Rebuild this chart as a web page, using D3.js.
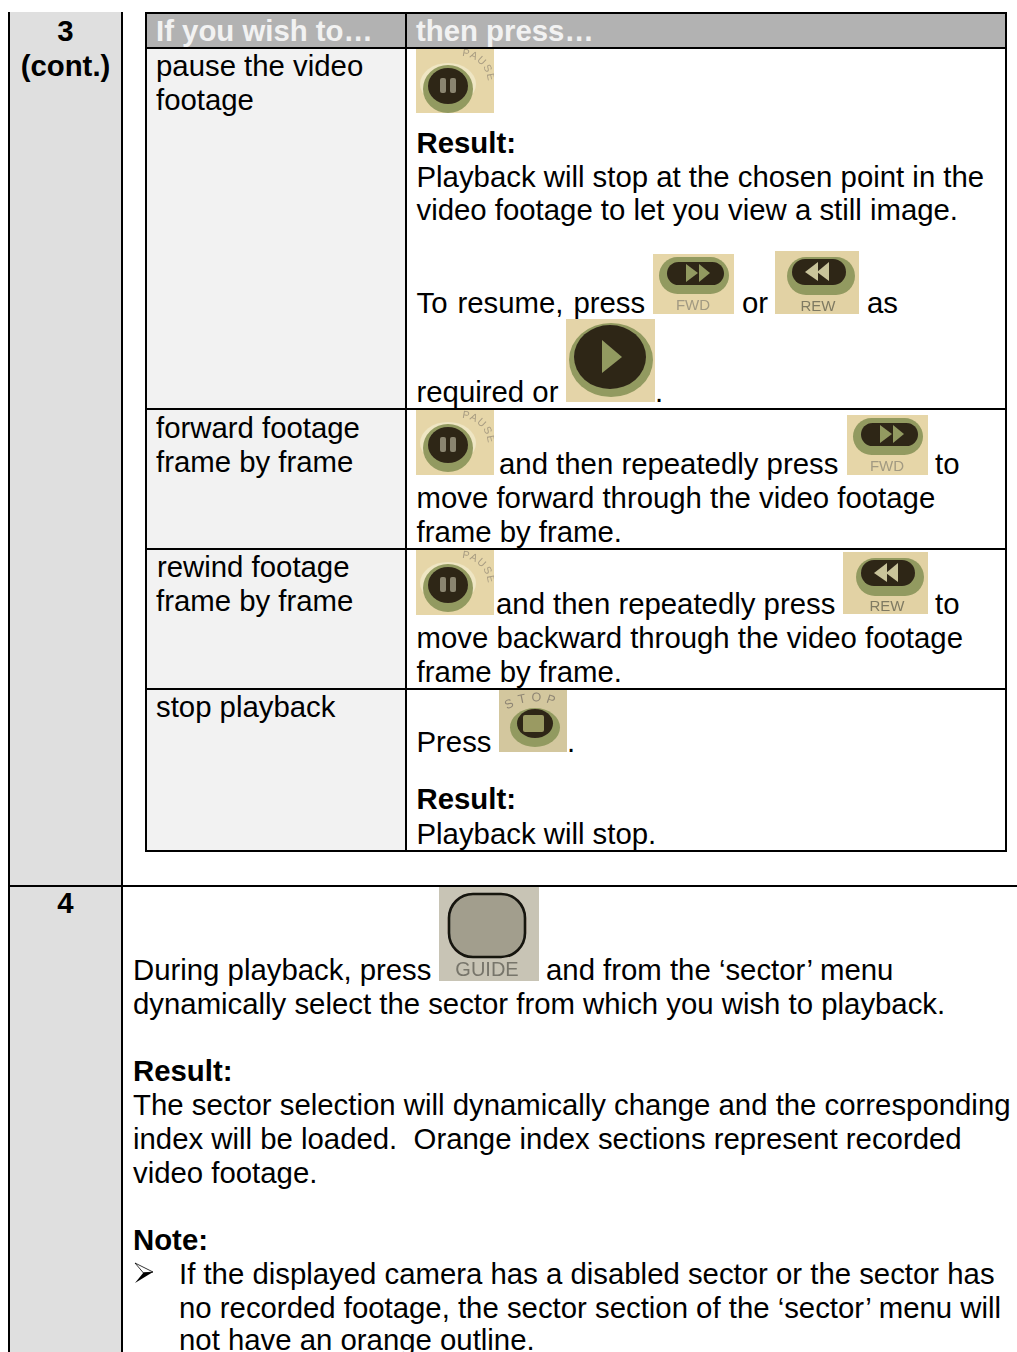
<!DOCTYPE html>
<html>
<head>
<meta charset="utf-8">
<script src="https://cdnjs.cloudflare.com/ajax/libs/d3/7.8.5/d3.min.js"></script>
<style>
  html, body { margin: 0; padding: 0; background: #fff; }
  svg { display: block; }
  text { font-family: "Liberation Sans", Arial, sans-serif; font-size: 29.35px; fill: #000; }
  text.b { font-weight: bold; }
  text.head { font-weight: bold; fill: #f2f2f2; }
</style>
</head>
<body>
<svg id="page" width="1017" height="1352"></svg>
<script>
var stepLabels = ["3", "(cont.)", "4"];
var headers = ["If you wish to…", "then press…"];
var wishes = ["pause the video", "footage", "forward footage", "frame by frame", "rewind footage", "frame by frame", "stop playback"];
var pauseText = ["Playback will stop at the chosen point in the", "video footage to let you view a still image."];
var resumeText = ["To resume, press", "or", "as", "required or", "."];
var forwardText = ["and then repeatedly press", "to", "move forward through the video footage", "frame by frame."];
var rewindText = ["and then repeatedly press", "to", "move backward through the video footage", "frame by frame."];
var stopText = ["Press", ".", "Playback will stop."];
var guideText = ["During playback, press", "and from the ‘sector’ menu", "dynamically select the sector from which you wish to playback."];
var changeText = ["The sector selection will dynamically change and the corresponding", "index will be loaded.  Orange index sections represent recorded", "video footage."];
var noteText = ["If the displayed camera has a disabled sector or the sector has", "no recorded footage, the sector section of the ‘sector’ menu will", "not have an orange outline."];

var OLIVE = "#929a60", DARK = "#2e2519";
var svg = d3.select("#page");
var defs = svg.append("defs");
defs.append("filter").attr("id", "soft").append("feGaussianBlur").attr("stdDeviation", 0.7);
var arcId = 0;

function box(x, y, w, h, fill) {
  svg.append("rect").attr("x", x).attr("y", y).attr("width", w).attr("height", h).attr("fill", fill);
}
function rule(x1, y1, x2, y2, width) {
  svg.append("line").attr("x1", x1).attr("y1", y1).attr("x2", x2).attr("y2", y2)
    .attr("stroke", "#000").attr("stroke-width", width || 2);
}
function label(x, y, str, cls, anchor) {
  return svg.append("text").attr("x", x).attr("y", y).attr("class", cls || null)
    .attr("text-anchor", anchor || "start")
    .style("white-space", "pre").text(str);
}
function block(x, ys, strs) {
  strs.forEach(function(s, i) { label(x, ys[i], s); });
}

// the little photos of the remote buttons, nested svg clips them to the photo
function photo(x, y, w, h, bg) {
  svg.append("rect").attr("x", x).attr("y", y).attr("width", w).attr("height", h).attr("fill", bg);
  return svg.append("svg").attr("x", x).attr("y", y).attr("width", w).attr("height", h)
    .append("g").attr("filter", "url(#soft)");
}
function capText(g, x, y, str, size, color) {
  g.append("text").attr("x", x).attr("y", y).attr("text-anchor", "middle")
    .style("font-size", size + "px").style("fill", color).text(str);
}
function arcText(g, d, str, size, spacing, color) {
  var id = "arc" + (arcId++);
  defs.append("path").attr("id", id).attr("d", d);
  g.append("text").style("font-size", size + "px").style("letter-spacing", spacing + "px").style("fill", color)
    .append("textPath").attr("href", "#" + id).text(str);
}
function oval(g, cx, cy, rx, ry, fill) {
  return g.append("ellipse").attr("cx", cx).attr("cy", cy).attr("rx", rx).attr("ry", ry).attr("fill", fill);
}
function tri(g, pts, color) {
  g.append("path").attr("d", d3.line()(pts) + "Z").attr("fill", color);
}
function pauseBtn(x, y, dy) {
  var g = photo(x, y, 78, 65, "#e6d6a8");
  oval(g, 32, 33 + dy, 28, 21, "#efe6c4");
  oval(g, 32, 38 + dy, 25, 24, OLIVE);
  oval(g, 32, 35 + dy, 20, 18, DARK);
  g.append("rect").attr("x", 24).attr("y", 27 + dy).attr("width", 6).attr("height", 15).attr("rx", 2).attr("fill", "#8a8570");
  g.append("rect").attr("x", 34).attr("y", 27 + dy).attr("width", 6).attr("height", 15).attr("rx", 2).attr("fill", "#8a8570");
  arcText(g, "M46,8 A27,27 0 0 1 72,35", "PAUSE", 10.5, 1, "#a89c82");
}
function pill(g, outer, dark) {
  g.append("rect").attr("x", outer[0]).attr("y", outer[1]).attr("width", outer[2]).attr("height", outer[3]).attr("rx", outer[3] / 2).attr("fill", OLIVE);
  g.append("rect").attr("x", dark[0]).attr("y", dark[1]).attr("width", dark[2]).attr("height", dark[3]).attr("rx", dark[3] / 2).attr("fill", DARK);
}
function fwdBtn(x, y) {
  var g = photo(x, y, 81, 60, "#e6d6a8");
  pill(g, [6, 3, 70, 37], [14, 8, 57, 23]);
  tri(g, [[33, 10], [45, 19], [33, 28]], OLIVE);
  tri(g, [[46, 10], [57, 19], [46, 28]], OLIVE);
  capText(g, 40, 56, "FWD", 15, "#a29a82");
}
function rewBtn(x, y, w, h) {
  var g = photo(x, y, w, h, "#e2d2a4");
  pill(g, [w - 72, 6, 68, 38], [w - 67, 8, 54, 26]);
  tri(g, [[w - 41, 11], [w - 54, 21], [w - 41, 30]], "#c9c49a");
  tri(g, [[w - 30, 11], [w - 42, 21], [w - 30, 30]], "#c9c49a");
  capText(g, w - 41, h - 3, "REW", 15, "#7f7a62");
}
function playBtn(x, y) {
  var g = photo(x, y, 89, 83, "#e4d4a8");
  oval(g, 45, 41, 42, 37, OLIVE);
  oval(g, 44, 38, 36, 32, DARK);
  tri(g, [[36, 21], [56, 38], [36, 54]], OLIVE);
}
function stopBtn(x, y) {
  var g = photo(x, y, 68, 62, "#d3c79e");
  oval(g, 36, 37.5, 25, 19.5, OLIVE);
  oval(g, 36, 33.5, 18, 14.5, DARK);
  g.append("rect").attr("x", 24).attr("y", 25).attr("width", 21).attr("height", 17).attr("rx", 2).attr("fill", "#9a9a62");
  arcText(g, "M8,20 Q34,4 62,18", "STOP", 12.5, 5, "#8f8674");
}
function guideBtn(x, y) {
  var g = photo(x, y, 100, 94, "#c8c4b5");
  g.append("rect").attr("x", 10).attr("y", 7).attr("width", 76).attr("height", 63).attr("rx", 24)
    .attr("fill", "#a29e8d").attr("stroke", "#141210").attr("stroke-width", 2.6);
  capText(g, 48, 89, "GUIDE", 20, "#77756b");
}

// backgrounds
box(9, 12, 113, 1340, "#dfdfdf");
box(146, 13, 260, 838, "#f2f2f2");
box(146, 13, 860, 35, "#b2b2b2");
box(407, 49, 599, 802, "#ffffff");
box(123, 887, 894, 465, "#ffffff");

// step column
label(65.5, 41, stepLabels[0], "b", "middle");
label(65.5, 76, stepLabels[1], "b", "middle");
label(65.5, 913, stepLabels[2], "b", "middle");

// inner table text
label(156, 41, headers[0], "head");
label(416, 41, headers[1], "head");
label(156, 76, wishes[0]);
label(156, 110, wishes[1]);
label(156, 438, wishes[2]);
label(156, 472, wishes[3]);
label(157, 577, wishes[4]);
label(156, 611, wishes[5]);
label(156, 717, wishes[6]);

pauseBtn(416, 48, 3);
label(416.5, 153, "Result:", "b");
block(416.5, [187, 220], pauseText);
label(416.5, 313, resumeText[0]).style("word-spacing", "1.8px");
fwdBtn(653, 254);
label(742, 313, resumeText[1]);
rewBtn(775, 251, 84, 63);
label(867, 313, resumeText[2]);
label(416.5, 402, resumeText[3]);
playBtn(566, 319);
label(655, 402, resumeText[4]);

pauseBtn(416, 410, 0);
label(499, 474, forwardText[0]);
fwdBtn(847, 415);
label(935, 474, forwardText[1]);
block(416.5, [508, 542], forwardText.slice(2));

pauseBtn(416, 550, 0);
label(496, 614, rewindText[0]);
rewBtn(843, 552, 85, 62);
label(935, 614, rewindText[1]);
block(416.5, [648, 682], rewindText.slice(2));

label(416.5, 752, stopText[0]);
stopBtn(499, 690);
label(567, 752, stopText[1]);
label(416.5, 809, "Result:", "b");
label(416.5, 844, stopText[2]);

// step 4
label(133, 980, guideText[0]);
guideBtn(439, 887);
label(546, 980, guideText[1]);
label(133, 1014, guideText[2]);
label(133, 1081, "Result:", "b");
block(133, [1115, 1149, 1183], changeText);
label(133, 1250, "Note:", "b");
// bullet arrowhead, thin on top, solid underneath
svg.append("path").attr("d", "M135,1263 L153,1272 L143.5,1273 Z")
  .attr("fill", "none").attr("stroke", "#000").attr("stroke-width", 0.8);
svg.append("path").attr("d", "M153,1272 L143.5,1272.5 L135,1283 Z").attr("fill", "#000");
block(179, [1284, 1318, 1350], noteText);

// rules
rule(9, 12, 9, 1352);
rule(122, 12, 122, 1352);
rule(8, 886, 1017, 886);
rule(145, 13, 1007, 13);
rule(145, 48, 1007, 48);
rule(146, 12, 146, 852);
rule(406, 12, 406, 852);
rule(1006, 12, 1006, 852);
rule(145, 409, 1007, 409);
rule(145, 549, 1007, 549);
rule(145, 689, 1007, 689);
rule(145, 851, 1007, 851);
</script>
</body>
</html>
